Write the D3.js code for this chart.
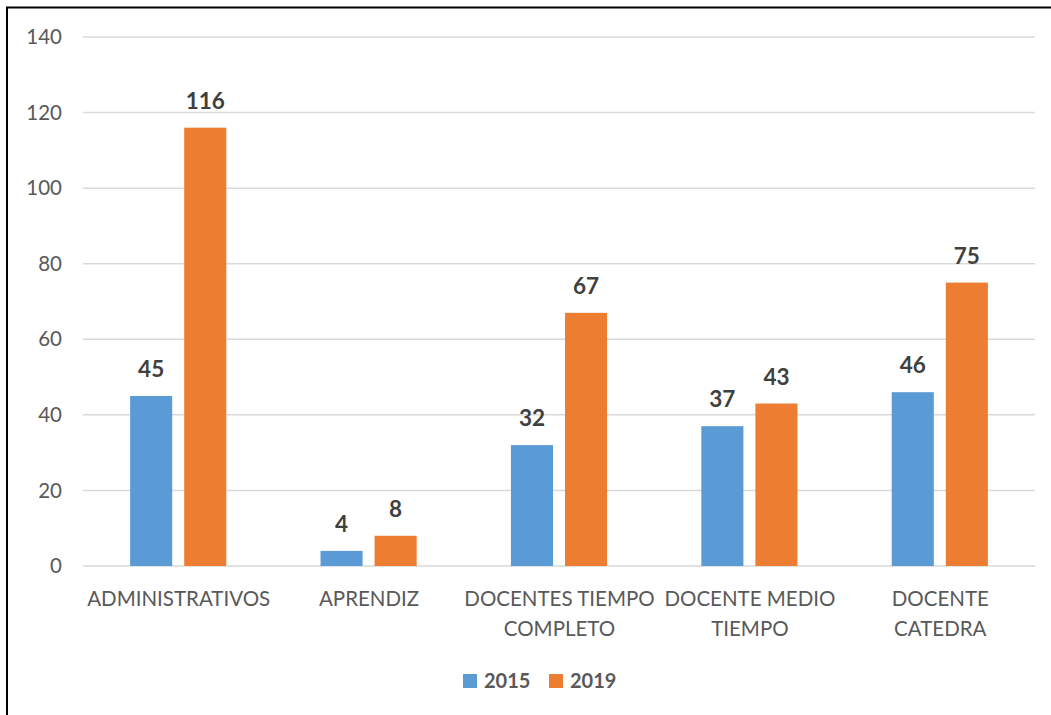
<!DOCTYPE html>
<html>
<head>
<meta charset="utf-8">
<script src="https://cdn.jsdelivr.net/npm/d3@7"></script>
<style>
  html, body { margin: 0; padding: 0; background: #fff; }
  svg { display: block; font-family: Lato, "Open Sans", sans-serif; }
</style>
</head>
<body>
<div id="chart"></div>
<script>
// ── Data ─────────────────────────────────────────────
const categories = [
  ["ADMINISTRATIVOS"],
  ["APRENDIZ"],
  ["DOCENTES TIEMPO", "COMPLETO"],
  ["DOCENTE MEDIO", "TIEMPO"],
  ["DOCENTE", "CATEDRA"]
];
const seriesNames = ["2015", "2019"];
const values2015 = [45, 4, 32, 37, 46];
const values2019 = [116, 8, 67, 43, 75];
const yTicks = [0, 20, 40, 60, 80, 100, 120, 140];
const colors = ["#5B9BD5", "#ED7D31"];

// ── Layout ───────────────────────────────────────────
const W = 1051, H = 715;
const plot = { left: 83, right: 1035, top: 37, bottom: 566 };

const svg = d3.select("#chart").append("svg")
  .attr("width", W).attr("height", H);

// outer frame
svg.append("rect")
  .attr("x", 7).attr("y", 7.5)
  .attr("width", 1060).attr("height", 720)
  .attr("fill", "none").attr("stroke", "#000").attr("stroke-width", 2);

const catKeys = categories.map((c, i) => i);
const x = d3.scaleBand().domain(catKeys).range([plot.left, plot.right]);
const y = d3.scaleLinear().domain([0, 140]).range([plot.bottom, plot.top]);

// gridlines
svg.append("g")
  .selectAll("line")
  .data(yTicks)
  .join("line")
    .attr("x1", plot.left).attr("x2", plot.right)
    .attr("y1", d => y(d)).attr("y2", d => y(d))
    .attr("stroke", "#D9D9D9").attr("stroke-width", 1.5);

// y tick labels
svg.append("g")
  .selectAll("text")
  .data(yTicks)
  .join("text")
    .attr("x", 62).attr("y", d => y(d))
    .attr("dy", "0.35em")
    .attr("text-anchor", "end")
    .attr("fill", "#595959")
    .style("font-size", "20.5px")
    .text(d => d);

// bars
const barW = x.bandwidth() * 0.221;
const gap = x.bandwidth() * 0.063;
const rows = [];
categories.forEach((c, i) => {
  [values2015[i], values2019[i]].forEach((v, s) => rows.push({ i, s, v }));
});
const barX = d => x(d.i) + x.bandwidth() / 2 + (d.s === 0 ? -gap / 2 - barW : gap / 2);

svg.append("g")
  .selectAll("rect")
  .data(rows)
  .join("rect")
    .attr("x", barX)
    .attr("y", d => y(d.v))
    .attr("width", barW)
    .attr("height", d => y(0) - y(d.v))
    .attr("fill", d => colors[d.s]);

// value labels
svg.append("g")
  .selectAll("text")
  .data(rows)
  .join("text")
    .attr("x", d => barX(d) + barW / 2)
    .attr("y", d => y(d.v) - 19)
    .attr("text-anchor", "middle")
    .attr("fill", "#404040")
    .style("font-size", "22.5px").style("font-weight", "bold")
    .text(d => d.v);

// category labels
const catG = svg.append("g");
categories.forEach((lines, i) => {
  const cx = x(i) + x.bandwidth() / 2 + 0.5;
  const t = catG.append("text")
    .attr("x", cx)
    .attr("y", 606)
    .attr("text-anchor", "middle")
    .attr("fill", "#595959")
    .style("font-size", "20.5px");
  lines.forEach((ln, k) => {
    t.append("tspan")
      .attr("x", cx)
      .attr("dy", k === 0 ? 0 : 30)
      .text(ln);
  });
});

// legend
const legend = svg.append("g");
const legendX = [463, 549];
seriesNames.forEach((name, s) => {
  legend.append("rect")
    .attr("x", legendX[s]).attr("y", 674)
    .attr("width", 14).attr("height", 14)
    .attr("fill", colors[s]);
  legend.append("text")
    .attr("x", legendX[s] + 21).attr("y", 688)
    .attr("fill", "#595959")
    .style("font-size", "20px").style("font-weight", "bold")
    .text(name);
});
</script>
</body>
</html>
